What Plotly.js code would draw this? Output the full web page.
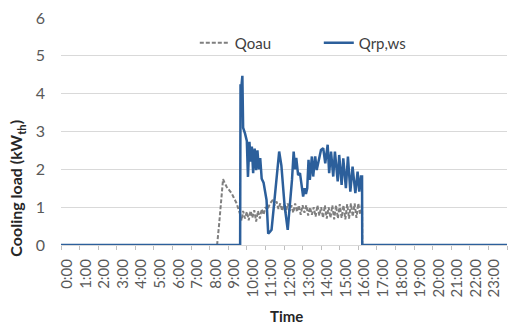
<!DOCTYPE html>
<html>
<head>
<meta charset="utf-8">
<script src="https://cdn.plot.ly/plotly-3.0.1.min.js"></script>
<style>html,body{margin:0;padding:0;background:#fff;}#chart{width:509px;height:327px;}</style>
</head>
<body>
<div id="chart"></div>
<script>
// Hour-of-day tick labels
const hourLabels = ["0:00","1:00","2:00","3:00","4:00","5:00","6:00","7:00","8:00","9:00","10:00","11:00",
  "12:00","13:00","14:00","15:00","16:00","17:00","18:00","19:00","20:00","21:00","22:00","23:00"];
const hourPositions = [0,1,2,3,4,5,6,7,8,9,10,11,12,13,14,15,16,17,18,19,20,21,22,23];

// Qoau (time in hours, load in kW_th)
const qoauT = [0, 8.40, 8.50, 8.60, 8.72, 8.80, 8.91, 9.05, 9.18, 9.30, 9.45, 9.62, 9.72, 9.80, 9.90, 10.00,
  10.10, 10.20, 10.30, 10.40, 10.50, 10.60, 10.70, 10.80, 10.90, 11.00, 11.10, 11.25, 11.40, 11.50, 11.60,
  11.70, 11.80, 11.90, 12.00, 12.10, 12.20, 12.30, 12.40, 12.50, 12.60, 12.70, 12.80, 12.90, 13.00, 13.10,
  13.20, 13.30, 13.40, 13.50, 13.60, 13.70, 13.80, 13.90, 14.00, 14.10, 14.20, 14.30, 14.40, 14.50, 14.60,
  14.70, 14.80, 14.90, 15.00, 15.10, 15.20, 15.30, 15.40, 15.50, 15.60, 15.70, 15.80, 15.90, 16.00, 16.10,
  16.20, 16.21, 24];
const qoauV = [0, 0, 0.5, 1.1, 1.74, 1.65, 1.54, 1.45, 1.37, 1.25, 1.1, 0.84, 0.65, 0.9, 0.7, 0.88,
  0.65, 0.9, 0.72, 0.92, 0.62, 0.9, 0.7, 0.95, 0.8, 1.0, 0.93, 1.1, 1.19, 1.05, 1.15,
  0.95, 1.1, 0.9, 1.08, 0.85, 1.1, 0.9, 1.05, 0.85, 1.1, 0.88, 1.05, 0.8, 1.05, 0.85,
  1.05, 0.78, 1.0, 0.8, 1.0, 0.75, 1.05, 0.78, 1.0, 0.72, 1.05, 0.7, 1.0, 0.72, 1.05,
  0.68, 1.05, 0.7, 1.08, 0.72, 1.05, 0.68, 1.08, 0.7, 1.1, 0.75, 1.1, 0.72, 1.1, 0.8,
  1.1, 0, 0];

// Qrp,ws (time in hours, load in kW_th)
const qrpT = [0, 9.64, 9.66, 9.71, 9.76, 9.80, 9.90, 10.00, 10.06, 10.14, 10.21, 10.27, 10.34, 10.42, 10.50,
  10.57, 10.65, 10.72, 10.80, 10.90, 11.06, 11.15, 11.25, 11.33, 11.44, 11.60, 11.74, 11.86, 12.03, 12.20,
  12.30, 12.43, 12.52, 12.60, 12.66, 12.76, 12.86, 12.95, 13.03, 13.11, 13.18, 13.25, 13.32, 13.39, 13.50,
  13.57, 13.68, 13.76, 13.90, 13.99, 14.11, 14.22, 14.35, 14.43, 14.53, 14.65, 14.74, 14.89, 14.97, 15.10,
  15.19, 15.33, 15.44, 15.57, 15.69, 15.84, 15.96, 16.05, 16.14, 16.20, 16.21, 24];
const qrpV = [0, 0, 4.25, 4.2, 4.47, 3.1, 2.95, 2.75, 1.8, 2.73, 2.2, 2.6, 1.9, 2.55, 1.98,
  2.5, 2.0, 2.3, 1.75, 1.65, 1.19, 0.3, 0.35, 0.4, 0.95, 1.72, 2.47, 2.1, 1.05, 0.4,
  0.9, 1.72, 2.47, 2.0, 2.3, 1.85, 1.9, 1.55, 1.28, 1.5, 1.35, 1.5, 2.25, 1.72, 2.34,
  1.81, 2.34, 1.98, 2.34, 2.51, 2.56, 2.16, 2.65, 1.90, 2.47, 1.81, 2.47, 1.68, 2.38, 1.59,
  2.29, 1.50, 2.34, 1.41, 2.07, 1.37, 1.94, 1.41, 1.81, 1.81, 0, 0];

const FONT = "Lato, 'Open Sans', sans-serif";
const labelOffset = 0.33;

const traces = [
  {x: qoauT, y: qoauV, type: 'scatter', mode: 'lines', name: 'Qoau',
   line: {color: '#7f7f7f', width: 2, dash: '4px,2px'}},
  {x: qrpT, y: qrpV, type: 'scatter', mode: 'lines', name: 'Qrp,ws',
   line: {color: '#2c5f9b', width: 2.5}}
];

const layout = {
  width: 509, height: 327,
  margin: {l: 61, r: 2, t: 18, b: 82},
  paper_bgcolor: '#ffffff', plot_bgcolor: '#ffffff',
  font: {family: FONT, color: '#595959', size: 14},
  showlegend: true,
  legend: {orientation: 'h', x: 0.3, xanchor: 'left', y: 0.89, yanchor: 'middle',
           font: {family: FONT, size: 15, color: '#404040'}, bgcolor: 'rgba(0,0,0,0)',
           itemwidth: 30, entrywidth: 79, tracegroupgap: 0},
  xaxis: {
    range: [0, 24], showgrid: false, zeroline: false,
    showline: true, linecolor: '#d9d9d9', linewidth: 1,
    tickmode: 'array', tickvals: hourPositions.map(h => h + labelOffset), ticktext: hourLabels,
    tickangle: -90, ticks: '', tickfont: {family: FONT, size: 15, color: '#595959'},
    ticklabelstandoff: 7,
    minor: {ticks: 'outside', ticklen: 4, tickcolor: '#bfbfbf', tickwidth: 1, tick0: 0, dtick: 1, showgrid: false}
  },
  yaxis: {
    range: [0, 6], dtick: 1, showgrid: true, gridcolor: '#d9d9d9', gridwidth: 1,
    zeroline: false, showline: false, ticks: '',
    tickfont: {family: FONT, size: 16, color: '#595959'}, ticklabelstandoff: 15
  },
  annotations: [
    {text: '<b>Cooling load (kW<sub>th</sub>)</b>', xref: 'paper', yref: 'paper',
     x: -0.1, y: 0.25, xanchor: 'center', yanchor: 'middle', textangle: -90, showarrow: false,
     font: {family: FONT, size: 16, color: '#262626'}},
    {text: '<b>Time</b>', xref: 'paper', yref: 'paper', x: 0.506, y: -0.312,
     xanchor: 'center', yanchor: 'middle', showarrow: false,
     font: {family: FONT, size: 15, color: '#262626'}}
  ]
};

Plotly.newPlot('chart', traces, layout, {displayModeBar: false, staticPlot: true});
</script>
</body>
</html>
